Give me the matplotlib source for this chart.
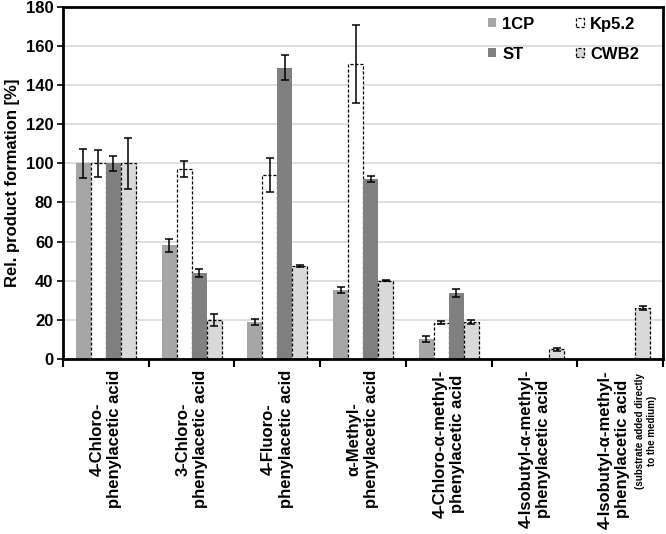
import matplotlib
matplotlib.use("Agg")
import matplotlib.pyplot as plt
import numpy as np
from matplotlib.transforms import blended_transform_factory

plt.rcParams['font.family'] = ['Liberation Sans', 'DejaVu Sans']
plt.rcParams['font.weight'] = 'bold'

categories = [
    "4-Chloro-\nphenylacetic acid",
    "3-Chloro-\nphenylacetic acid",
    "4-Fluoro-\nphenylacetic acid",
    "\u03b1-Methyl-\nphenylacetic acid",
    "4-Chloro-\u03b1-methyl-\nphenylacetic acid",
    "4-Isobutyl-\u03b1-methyl-\nphenylacetic acid",
    "4-Isobutyl-\u03b1-methyl-\nphenylacetic acid",
]
note_last = "(substrate added directly\nto the medium)"

series = ["1CP", "Kp5.2", "ST", "CWB2"]
v_1cp = [100, 58, 19, 35, 10, 0, 0]
e_1cp = [7.5, 3.5, 1.5, 1.5, 1.5, 0, 0]
v_kp = [100, 97, 94, 151, 18.5, 0, 0]
e_kp = [7, 4, 8.5, 20, 0.8, 0, 0]
v_st = [100, 44, 149, 92, 33.5, 0, 0]
e_st = [4, 2, 6.5, 1.5, 2, 0, 0]
v_cwb = [100, 20, 47.5, 40, 19, 5, 26]
e_cwb = [13, 3, 0.5, 0.4, 1, 0.8, 1.2]

values = [v_1cp, v_kp, v_st, v_cwb]
errors = [e_1cp, e_kp, e_st, e_cwb]
face = ["#a6a6a6", "#ffffff", "#808080", "#d9d9d9"]
edge = ["none", "black", "none", "black"]
lstyle = ["solid", (0, (2.5, 1.5)), "solid", (0, (2.5, 1.5))]

fig = plt.figure(figsize=(6.66, 5.34), dpi=100)
ax = fig.add_axes([0.0946, 0.328, 0.901, 0.659])

n = len(categories)
x = np.arange(n)
w = 0.175
offsets = (np.arange(4) - 1.5) * w

handles = []
for i in range(4):
    vals = np.array(values[i], dtype=float)
    errs = np.array(errors[i], dtype=float)
    mask = vals > 0
    b = ax.bar(x[mask] + offsets[i], vals[mask], width=w, color=face[i],
               edgecolor=edge[i], linewidth=0.9 if edge[i] != "none" else 0,
               linestyle=lstyle[i], zorder=2, label=series[i])
    ax.errorbar(x[mask] + offsets[i], vals[mask], yerr=errs[mask], fmt="none",
                ecolor="black", elinewidth=1.1, capsize=3, capthick=1.1, zorder=3)
    handles.append(b)

ax.set_xlim(-0.5, n - 0.5)
ax.set_ylim(0, 180)
ax.set_yticks(np.arange(0, 181, 20))
ax.yaxis.grid(True, color="#d9d9d9", linewidth=1.2, zorder=0)
ax.set_axisbelow(True)

ax.set_xticks(x)
ax.set_xticklabels(categories[:-1] + [""], rotation=90, fontsize=12, fontweight="bold",
                   multialignment="center")
ax.set_xticks(np.arange(n + 1) - 0.5, minor=True)
ax.tick_params(axis="x", which="major", length=0, pad=8)
ax.tick_params(axis="x", which="minor", length=6, width=1.5, direction="out")
ax.tick_params(axis="y", length=4, width=1.2, labelsize=12, pad=3)
for lab in ax.get_yticklabels():
    lab.set_fontweight("bold")

trans = blended_transform_factory(ax.transData, ax.transAxes)
ax.text(n - 1 - 0.07, -0.032, categories[-1], rotation=90, fontsize=12, fontweight="bold",
        ha="center", va="top", multialignment="center", transform=trans)
ax.text(n - 1 + 0.30, -0.04, note_last, rotation=90, fontsize=7, fontweight="bold",
        ha="center", va="top", multialignment="center", transform=trans)

ax.set_ylabel("Rel. product formation [%]", fontsize=12, fontweight="bold", labelpad=4)

for s in ax.spines.values():
    s.set_linewidth(2)
    s.set_color("black")

order = [0, 2, 1, 3]
leg = ax.legend([handles[k] for k in order], [series[k] for k in order], ncol=2,
                loc="upper right", bbox_to_anchor=(0.985, 1.015), frameon=False,
                prop={"weight": "bold", "size": 12},
                handlelength=0.5, handleheight=0.5, handletextpad=0.35,
                columnspacing=2.5, labelspacing=0.9)

fig.savefig("out.png", dpi=100)
